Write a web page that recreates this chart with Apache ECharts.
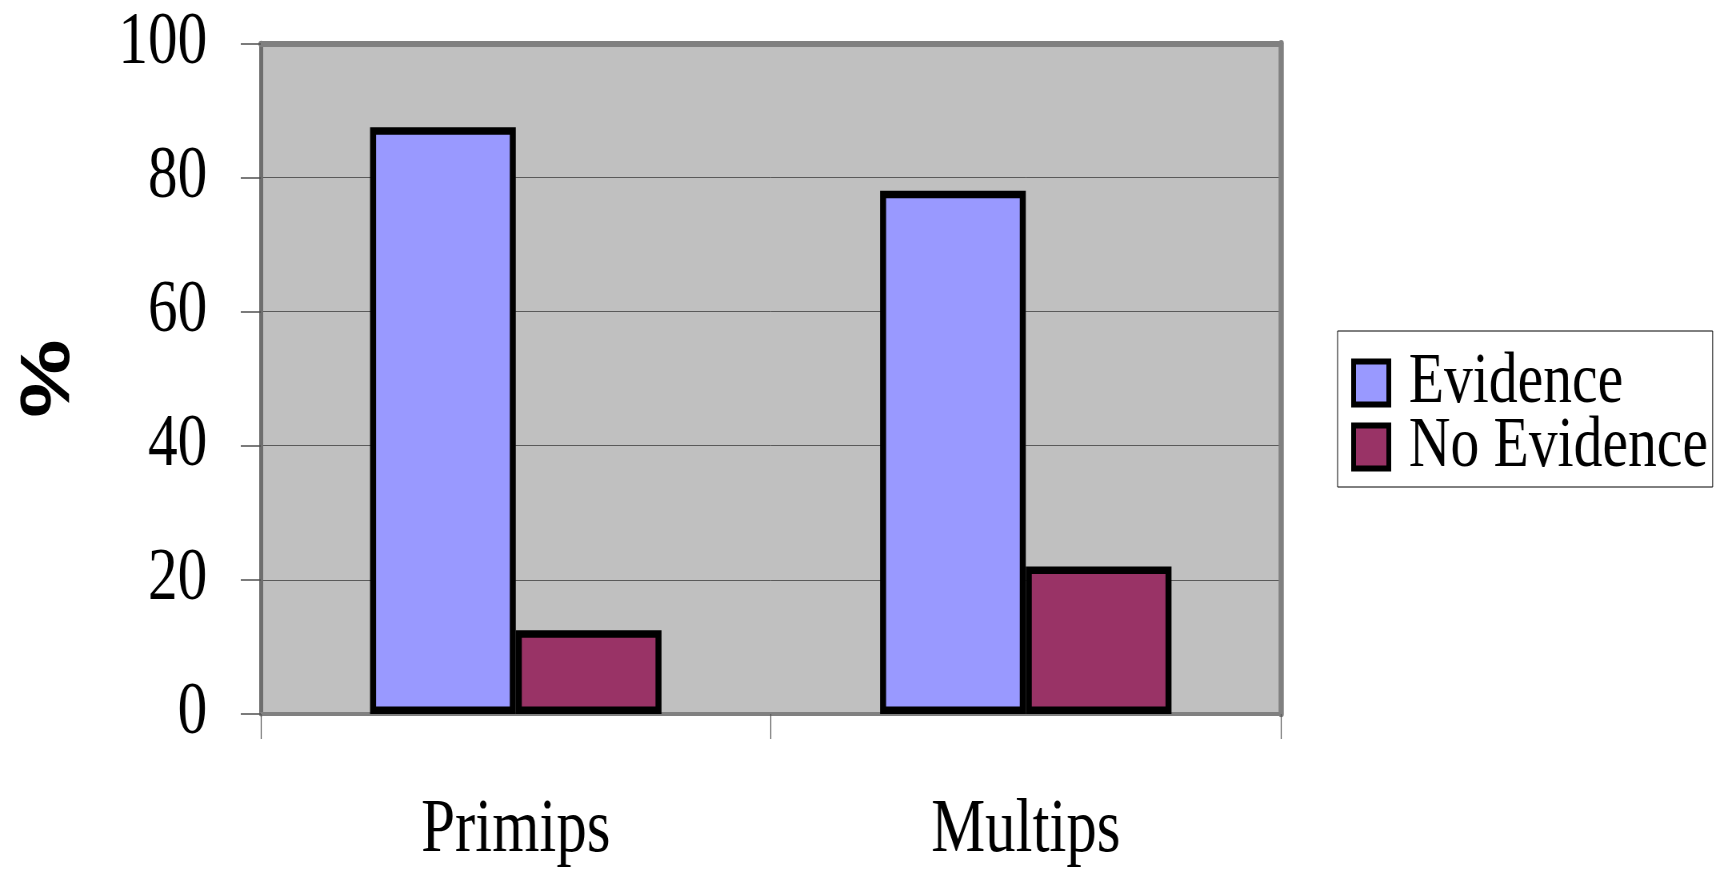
<!DOCTYPE html>
<html>
<head>
<meta charset="utf-8">
<title>Evidence by group</title>
<script src="https://cdn.jsdelivr.net/npm/echarts@6/dist/echarts.min.js"></script>
<style>
  html, body { margin: 0; padding: 0; background: #ffffff; overflow: hidden; }
  /* the chart is laid out wide and then narrowed, giving the condensed look of the type */
  #chart { width: 2161px; height: 869px; transform: scaleX(0.8); transform-origin: 0 0; }
</style>
</head>
<body>
<div id="chart"></div>
<script>
// groups on the x axis
const categories = ['Primips', 'Multips'];
// percentage of each group
const evidence = [87.5, 78];
const noEvidence = [12.5, 22];
// series names shown in the legend
const seriesNames = ['Evidence', 'No Evidence'];
// y axis range
const yMin = 0;
const yMax = 100;
const yStep = 20;

const serif = '"Liberation Serif", "Times New Roman", serif';

const chart = echarts.init(document.getElementById('chart'), null, { renderer: 'canvas' });

const barBorder = { borderColor: '#000000', borderWidth: 7.5 };

chart.setOption({
  animation: false,
  backgroundColor: '#ffffff',
  grid: {
    left: 326,
    top: 43.3,
    width: 1275,
    height: 671.4,
    show: true,
    backgroundColor: '#c0c0c0',
    borderWidth: 0
  },
  legend: {
    orient: 'vertical',
    left: 1672,
    top: 331,
    padding: [16, 6, 4, 17],
    itemGap: -8,
    itemWidth: 44,
    itemHeight: 43,
    icon: 'rect',
    backgroundColor: '#ffffff',
    borderColor: '#000000',
    borderWidth: 1,
    itemStyle: { borderColor: '#000000', borderWidth: 6 },
    textStyle: {
      fontFamily: serif,
      fontSize: 72,
      color: '#000000',
      lineHeight: 64,
      padding: [0, 0, 0, 20]
    },
    data: seriesNames
  },
  xAxis: [
    {
      type: 'category',
      data: categories,
      position: 'bottom',
      axisLine: { show: true, onZero: false, lineStyle: { color: '#808080', width: 4 } },
      axisTick: { show: true, length: 25, lineStyle: { color: '#555555', width: 1.2 } },
      axisLabel: { fontFamily: serif, fontSize: 76, color: '#000000', margin: 79 }
    },
    {
      // upper edge of the plot frame
      type: 'category',
      data: categories,
      position: 'top',
      axisLine: { show: true, onZero: false, lineStyle: { color: '#808080', width: 6 } },
      axisTick: { show: false },
      axisLabel: { show: false }
    }
  ],
  yAxis: [
    {
      type: 'value',
      min: yMin,
      max: yMax,
      interval: yStep,
      position: 'left',
      name: '%',
      nameLocation: 'middle',
      nameGap: 220,
      nameRotate: 90,
      nameTextStyle: {
        fontFamily: '"Liberation Sans", Arial, sans-serif',
        fontWeight: 'bold',
        fontSize: 88,
        color: '#000000'
      },
      axisLine: { show: true, onZero: false, lineStyle: { color: '#6e6e6e', width: 5 } },
      axisTick: { show: true, length: 25, lineStyle: { color: '#505050', width: 1.5 } },
      axisLabel: { fontFamily: serif, fontSize: 74, color: '#000000', margin: 67, padding: [0, 0, 4, 0] },
      splitLine: { show: true, lineStyle: { color: '#5a5a5a', width: 1 } }
    },
    {
      // right edge of the plot frame
      type: 'value',
      min: yMin,
      max: yMax,
      interval: yStep,
      position: 'right',
      axisLine: { show: true, onZero: false, lineStyle: { color: '#808080', width: 6.5 } },
      axisTick: { show: false },
      axisLabel: { show: false },
      splitLine: { show: false }
    }
  ],
  series: [
    {
      name: seriesNames[0],
      type: 'bar',
      data: evidence,
      barGap: '0%',
      barCategoryGap: '42.86%',
      itemStyle: Object.assign({ color: '#9999ff' }, barBorder)
    },
    {
      name: seriesNames[1],
      type: 'bar',
      data: noEvidence,
      barGap: '0%',
      barCategoryGap: '42.86%',
      itemStyle: Object.assign({ color: '#993366' }, barBorder)
    }
  ]
});
</script>
</body>
</html>
